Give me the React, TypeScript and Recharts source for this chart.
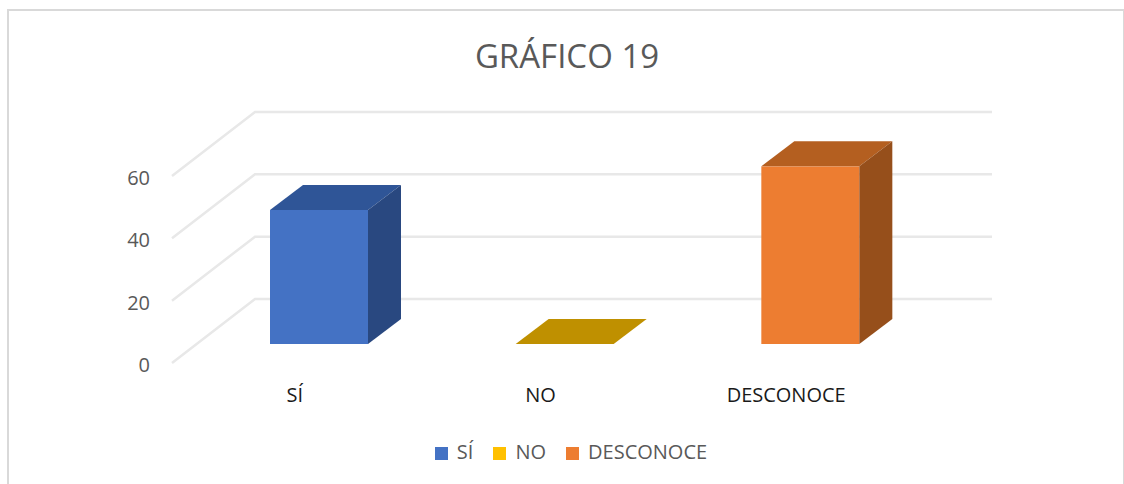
import React from 'react';
import { BarChart, Bar, XAxis, YAxis, CartesianGrid, Legend } from 'recharts';

const categories = ['SÍ', 'NO', 'DESCONOCE'];
const siValues = [43, null, null];
const noValues = [null, 0, null];
const desconoceValues = [null, null, 57];
const yTicks = [0, 20, 40, 60];

const data = categories.map((name, i) => ({
  name,
  si: siValues[i],
  no: noValues[i],
  desconoce: desconoceValues[i],
}));

const FONT = '"Open Sans", sans-serif';

// fake 3D: wall depth of the grid and of the boxes
const WALL_DX = 83;
const WALL_DY = 64;
const BOX_DX = 33;
const BOX_DY = 25;
const BOX_SHIFT_X = 24;
const BOX_SHIFT_Y = 19;

const renderGridLine = (props: any) => {
  const { x1, x2, y1, key } = props;
  const backY = y1 - WALL_DY;
  return (
    <polyline
      key={key ?? y1}
      points={`${x1},${y1} ${x1 + WALL_DX},${backY} ${x2 + WALL_DX},${backY}`}
      fill="none"
      stroke="#e8e8e8"
      strokeWidth={2.5}
    />
  );
};

const box = (dataKey: string, front: string, top: string, side: string) => (props: any) => {
  if (props.payload[dataKey] == null) return <g />;
  const x = props.x + BOX_SHIFT_X;
  const y = props.y - BOX_SHIFT_Y;
  const w = props.width;
  const h = props.height;
  const r = x + w;
  const b = y + h;
  return (
    <g>
      <rect x={x} y={y} width={w} height={h} fill={front} />
      <polygon points={`${x},${y} ${x + BOX_DX},${y - BOX_DY} ${r + BOX_DX},${y - BOX_DY} ${r},${y}`} fill={top} />
      <polygon points={`${r},${y} ${r + BOX_DX},${y - BOX_DY} ${r + BOX_DX},${b - BOX_DY} ${r},${b}`} fill={side} />
    </g>
  );
};

export default function App() {
  return (
    <div style={{ position: 'absolute', left: 0, top: 0, width: 1124, height: 484, background: '#fff', overflow: 'hidden', fontFamily: FONT }}>
      <div style={{ position: 'absolute', left: 7, top: 9, width: 1114, height: 480, borderTop: '2px solid #d9d9d9', borderLeft: '2px solid #d9d9d9', borderRight: '2px solid #d9d9d9' }} />
      <div style={{ position: 'absolute', left: 0, top: 34, width: 1134, textAlign: 'center', fontSize: 33, lineHeight: '44px', color: '#595959' }}>
        GRÁFICO 19
      </div>
      <div style={{ position: 'absolute', left: 0, top: 0 }}>
        <BarChart
          width={1124}
          height={484}
          data={data}
          barSize={98}
          margin={{ top: 176, right: 215, bottom: 0, left: 122 }}
        >
          <CartesianGrid vertical={false} horizontal={renderGridLine} />
          <XAxis
            dataKey="name"
            axisLine={false}
            tickLine={false}
            height={89}
            tickMargin={19}
            tick={{ fill: '#1a1a1a', fontSize: 20, fontFamily: FONT }}
            interval={0}
          />
          <YAxis
            domain={[0, 60]}
            ticks={yTicks}
            width={50}
            axisLine={false}
            tickLine={false}
            tickMargin={16}
            tick={{ fill: '#595959', fontSize: 20, fontFamily: FONT, dy: 2 }}
          />
          <Bar dataKey="si" name="SÍ" stackId="a" fill="#4472c4" isAnimationActive={false} shape={box('si', '#4472c4', '#2f5597', '#294880')} />
          <Bar dataKey="no" name="NO" stackId="a" fill="#ffc000" isAnimationActive={false} shape={box('no', '#ffc000', '#bf9000', '#bf9000')} />
          <Bar dataKey="desconoce" name="DESCONOCE" stackId="a" fill="#ed7d31" isAnimationActive={false} shape={box('desconoce', '#ed7d31', '#b45f20', '#964f1b')} />
          <Legend
            iconType="square"
            iconSize={13}
            itemSorter={null}
            wrapperStyle={{ position: 'absolute', left: 0, top: 438, width: 1162, height: 32, fontSize: 20, fontFamily: FONT }}
            formatter={(value: string) => <span style={{ color: '#595959', marginLeft: 5, marginRight: 10 }}>{value}</span>}
          />
        </BarChart>
      </div>
    </div>
  );
}
